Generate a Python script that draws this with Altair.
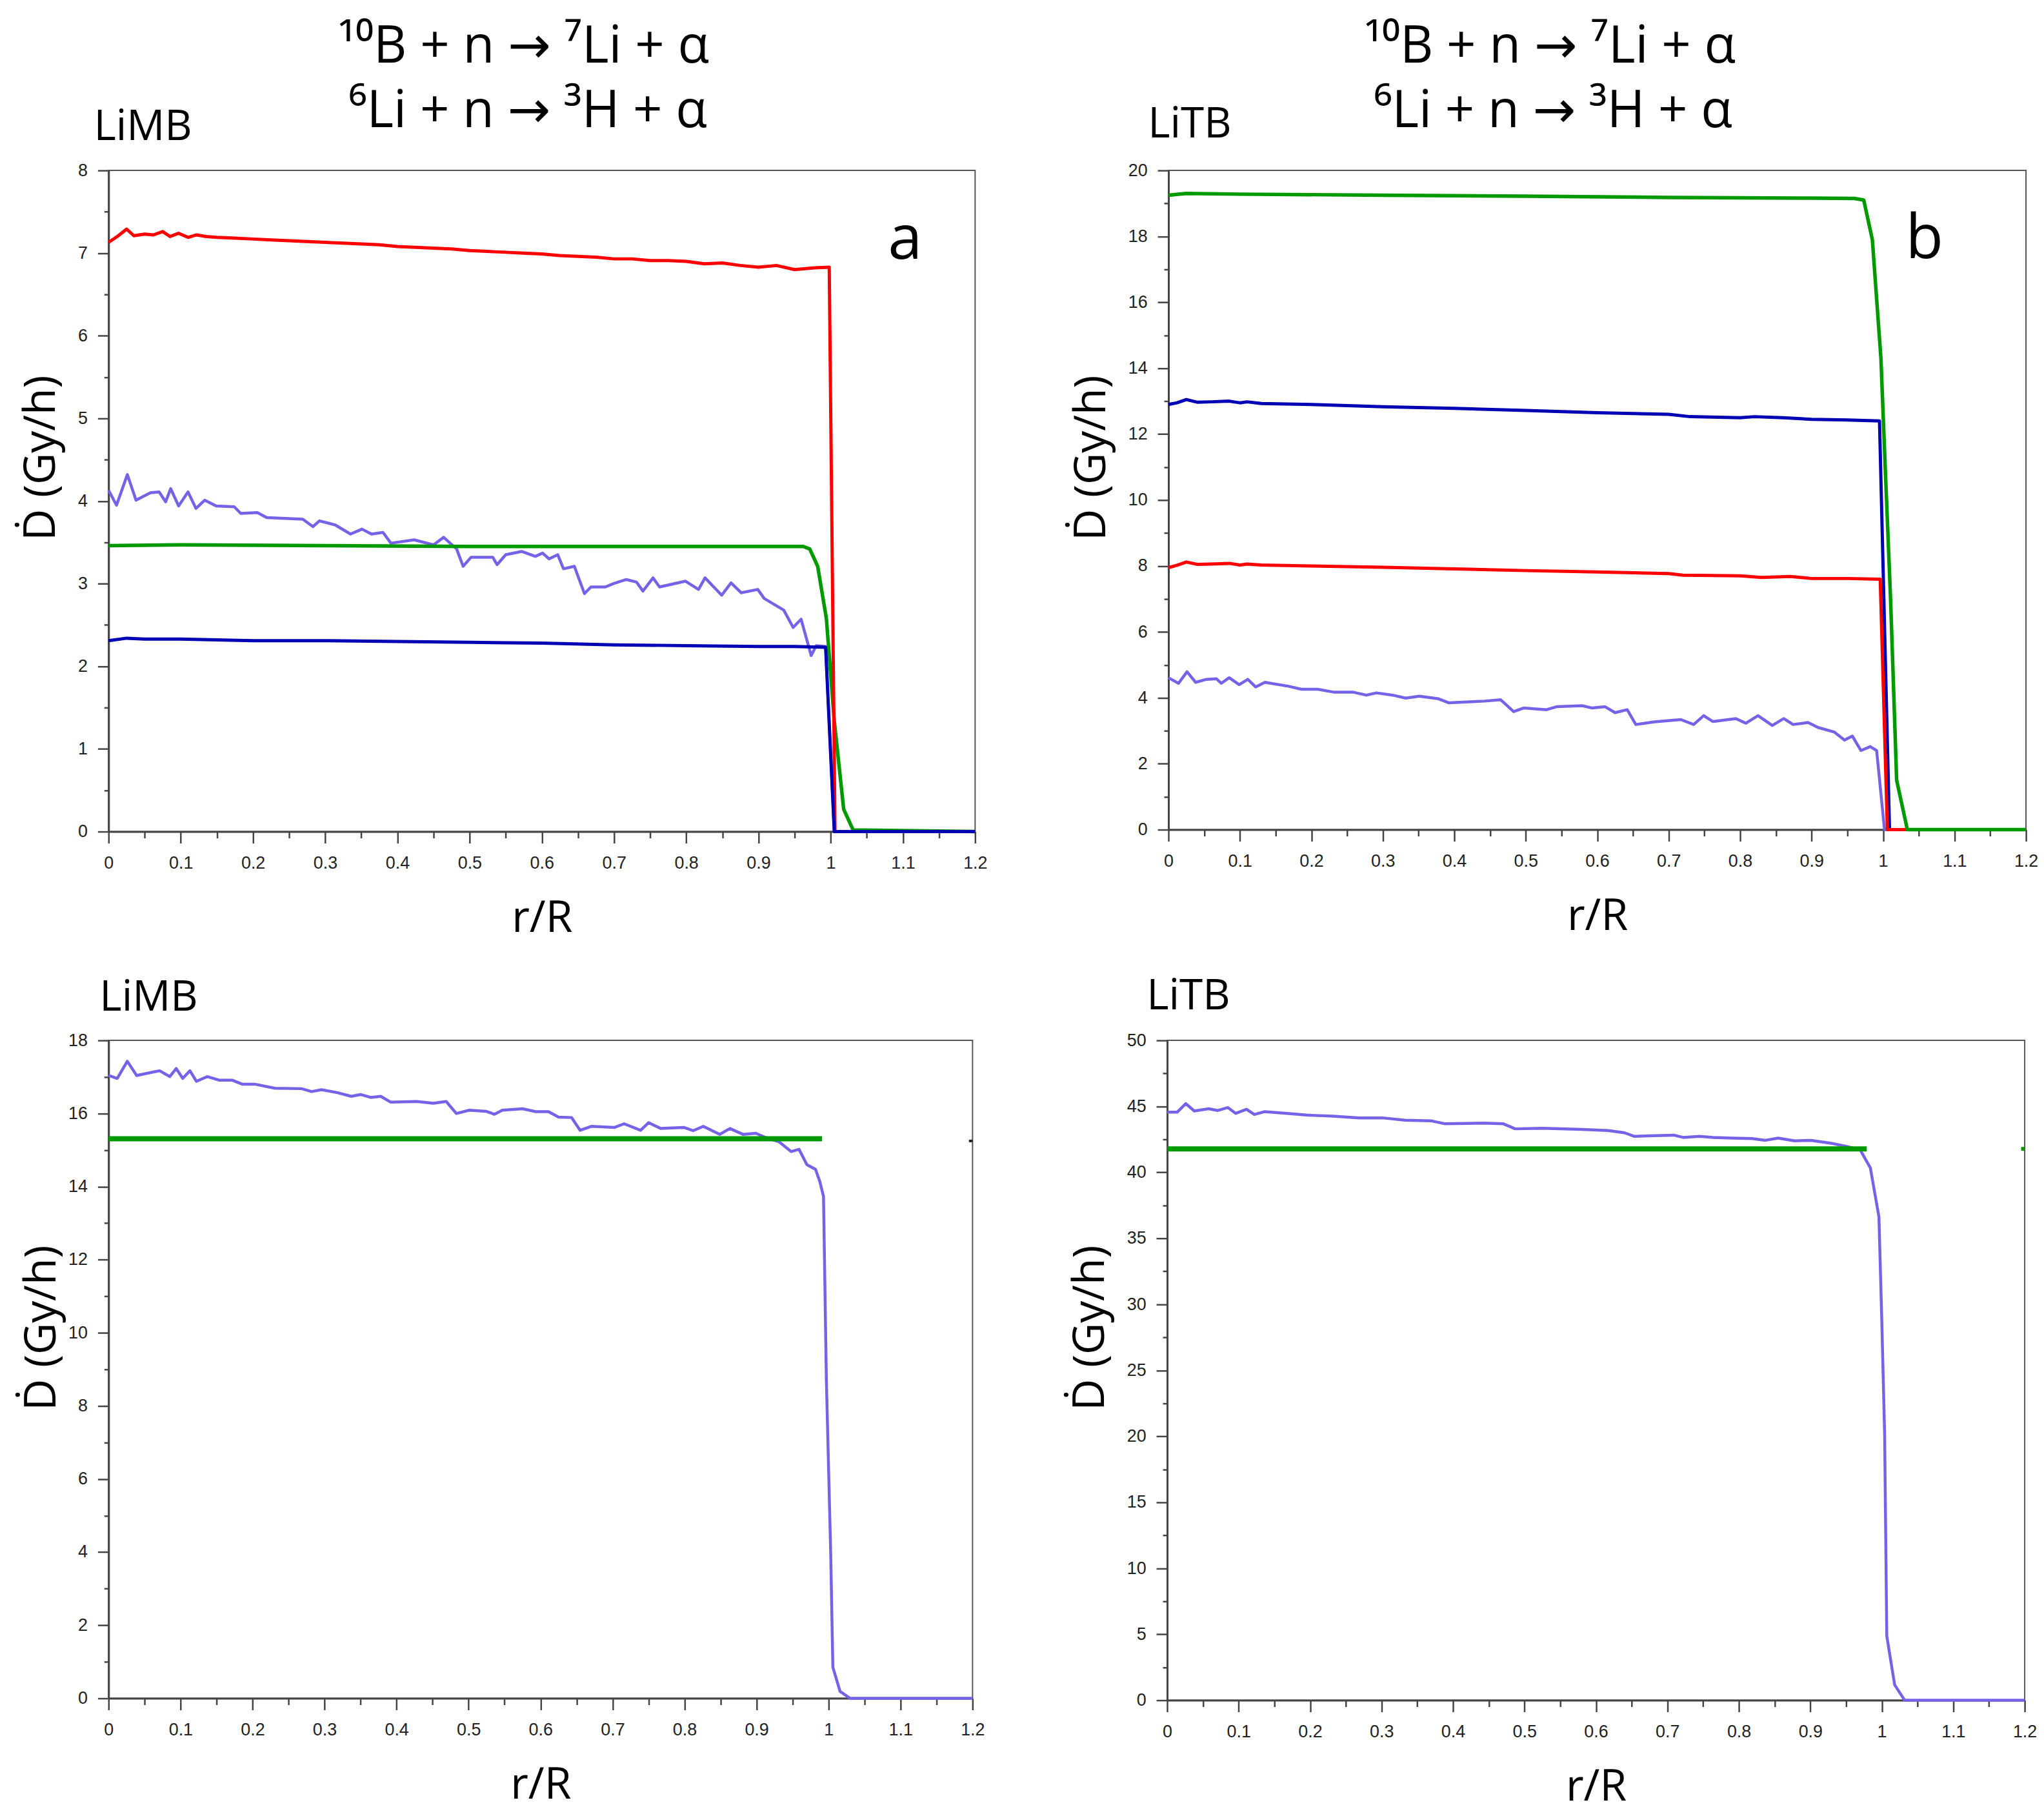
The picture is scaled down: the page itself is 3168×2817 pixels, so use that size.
import altair as alt
import pandas as pd

# ---- tick values ----
X_TICKS = [0, 0.05, 0.1, 0.15, 0.2, 0.25, 0.3, 0.35, 0.4, 0.45, 0.5, 0.55, 0.6,
           0.65, 0.7, 0.75, 0.8, 0.85, 0.9, 0.95, 1, 1.05, 1.1, 1.15, 1.2]
A_Y_TICKS = [0, 0.5, 1, 1.5, 2, 2.5, 3, 3.5, 4, 4.5, 5, 5.5, 6, 6.5, 7, 7.5, 8]
B_Y_TICKS = [0, 1, 2, 3, 4, 5, 6, 7, 8, 9, 10, 11, 12, 13, 14, 15, 16, 17, 18, 19, 20]
C_Y_TICKS = [0, 1, 2, 3, 4, 5, 6, 7, 8, 9, 10, 11, 12, 13, 14, 15, 16, 17, 18]
D_Y_TICKS = [0, 2.5, 5, 7.5, 10, 12.5, 15, 17.5, 20, 22.5, 25, 27.5, 30, 32.5, 35,
             37.5, 40, 42.5, 45, 47.5, 50]

# ---- panel a (LiMB) ----
a_red_r = [0, 0.012, 0.025, 0.035, 0.05, 0.062, 0.075, 0.085, 0.097, 0.11, 0.122, 0.135, 0.15,
           0.175, 0.2, 0.225, 0.25, 0.275, 0.3, 0.325, 0.35, 0.375, 0.4, 0.425, 0.45, 0.475,
           0.5, 0.525, 0.55, 0.575, 0.6, 0.625, 0.65, 0.675, 0.7, 0.725, 0.75, 0.775, 0.8,
           0.825, 0.85, 0.875, 0.9, 0.925, 0.95, 0.975, 0.998, 1.006, 1.2]
a_red_D = [7.13, 7.2, 7.29, 7.21, 7.23, 7.22, 7.26, 7.2, 7.24, 7.19, 7.22, 7.2, 7.19,
           7.18, 7.17, 7.16, 7.15, 7.14, 7.13, 7.12, 7.11, 7.1, 7.08, 7.07, 7.06, 7.05,
           7.03, 7.02, 7.01, 7.0, 6.99, 6.97, 6.96, 6.95, 6.93, 6.93, 6.91, 6.91, 6.9,
           6.87, 6.88, 6.85, 6.83, 6.85, 6.8, 6.82, 6.83, 0, 0]
a_blue_r = [0, 0.025, 0.05, 0.1, 0.15, 0.2, 0.3, 0.4, 0.5, 0.6, 0.7, 0.8, 0.9, 0.95, 0.993, 1.005, 1.2]
a_blue_D = [2.31, 2.34, 2.33, 2.33, 2.32, 2.31, 2.31, 2.3, 2.29, 2.28, 2.26, 2.25, 2.24, 2.24, 2.23, 0, 0]
a_green_r = [0, 0.1, 0.3, 0.5, 0.7, 0.9, 0.962, 0.971, 0.982, 0.994, 1.005, 1.018, 1.031, 1.2]
a_green_D = [3.46, 3.47, 3.46, 3.45, 3.45, 3.45, 3.45, 3.42, 3.21, 2.58, 1.34, 0.27, 0.02, 0]
a_purple_r = [0, 0.011, 0.026, 0.038, 0.058, 0.07, 0.079, 0.086, 0.097, 0.11,
              0.121, 0.133, 0.149, 0.174, 0.183, 0.206, 0.219, 0.269, 0.283, 0.292,
              0.314, 0.335, 0.351, 0.364, 0.38, 0.391, 0.423, 0.45, 0.464, 0.482,
              0.491, 0.502, 0.532, 0.538, 0.55, 0.572, 0.591, 0.601, 0.61, 0.622,
              0.63, 0.645, 0.659, 0.668, 0.688, 0.699, 0.717, 0.731, 0.74, 0.754,
              0.763, 0.799, 0.817, 0.826, 0.849, 0.862, 0.876, 0.899, 0.908, 0.935,
              0.948, 0.959, 0.973, 0.98, 0.993, 1.005, 1.2]
a_purple_D = [4.13, 3.95, 4.32, 4.01, 4.10, 4.11, 3.99, 4.15, 3.94, 4.11,
              3.91, 4.01, 3.94, 3.93, 3.85, 3.86, 3.80, 3.78, 3.69, 3.76,
              3.71, 3.60, 3.66, 3.60, 3.62, 3.49, 3.53, 3.47, 3.56, 3.42,
              3.21, 3.32, 3.32, 3.23, 3.35, 3.39, 3.33, 3.37, 3.30, 3.35,
              3.18, 3.21, 2.88, 2.96, 2.96, 3.00, 3.05, 3.02, 2.91, 3.07,
              2.96, 3.03, 2.93, 3.07, 2.86, 3.01, 2.89, 2.93, 2.82, 2.68,
              2.47, 2.57, 2.13, 2.25, 2.24, 0, 0]

# ---- panel b (LiTB) ----
b_green_r = [0, 0.025, 0.1, 0.3, 0.5, 0.7, 0.9, 0.96, 0.973, 0.985, 0.997, 1.003, 1.0105, 1.019, 1.034, 1.2]
b_green_D = [19.25, 19.3, 19.28, 19.25, 19.22, 19.18, 19.16, 19.15, 19.1, 17.9, 14.3, 11.0, 7.0, 1.5, 0, 0]
b_blue_r = [0, 0.012, 0.025, 0.04, 0.06, 0.085, 0.1, 0.11, 0.13, 0.2, 0.3, 0.4, 0.5, 0.6,
            0.7, 0.73, 0.8, 0.82, 0.86, 0.9, 0.95, 0.995, 1.009, 1.2]
b_blue_D = [12.9, 12.95, 13.05, 12.97, 12.98, 13.0, 12.95, 12.98, 12.93, 12.9, 12.83, 12.78, 12.72, 12.65,
            12.6, 12.53, 12.5, 12.53, 12.5, 12.45, 12.43, 12.4, 0, 0]
b_red_r = [0, 0.012, 0.025, 0.04, 0.06, 0.085, 0.1, 0.11, 0.13, 0.2, 0.3, 0.4, 0.5, 0.6,
           0.7, 0.72, 0.8, 0.83, 0.87, 0.9, 0.95, 0.996, 1.006, 1.2]
b_red_D = [7.95, 8.02, 8.12, 8.05, 8.06, 8.08, 8.03, 8.06, 8.03, 8.0, 7.96, 7.91, 7.86, 7.82,
           7.77, 7.72, 7.7, 7.65, 7.68, 7.62, 7.62, 7.6, 0, 0]
b_purple_r = [0, 0.014, 0.026, 0.038, 0.053, 0.067, 0.074, 0.085, 0.099, 0.111,
              0.122, 0.135, 0.168, 0.186, 0.209, 0.232, 0.259, 0.277, 0.291, 0.314,
              0.332, 0.351, 0.378, 0.392, 0.442, 0.465, 0.483, 0.497, 0.529, 0.543,
              0.579, 0.593, 0.611, 0.625, 0.642, 0.654, 0.68, 0.717, 0.735, 0.749,
              0.762, 0.794, 0.808, 0.825, 0.845, 0.861, 0.874, 0.895, 0.909, 0.932,
              0.946, 0.957, 0.969, 0.982, 0.991, 1.002, 1.2]
b_purple_D = [4.61, 4.44, 4.79, 4.47, 4.56, 4.58, 4.44, 4.61, 4.40, 4.56,
              4.33, 4.47, 4.35, 4.26, 4.26, 4.17, 4.17, 4.08, 4.15, 4.08,
              3.99, 4.05, 3.97, 3.85, 3.90, 3.94, 3.58, 3.69, 3.64, 3.73,
              3.76, 3.69, 3.73, 3.55, 3.64, 3.19, 3.27, 3.34, 3.19, 3.46,
              3.28, 3.37, 3.23, 3.46, 3.16, 3.37, 3.19, 3.25, 3.10, 2.96,
              2.72, 2.84, 2.40, 2.52, 2.40, 0, 0]

# ---- panel c (LiMB, bottom) ----
c_purple_r = [0, 0.012, 0.026, 0.039, 0.058, 0.071, 0.085, 0.094, 0.103, 0.113,
              0.122, 0.137, 0.154, 0.172, 0.186, 0.204, 0.231, 0.268, 0.282, 0.296,
              0.318, 0.337, 0.35, 0.364, 0.378, 0.392, 0.428, 0.451, 0.469, 0.483,
              0.501, 0.524, 0.536, 0.547, 0.575, 0.593, 0.611, 0.625, 0.643, 0.655,
              0.671, 0.703, 0.716, 0.739, 0.75, 0.767, 0.799, 0.812, 0.826, 0.849,
              0.863, 0.881, 0.899, 0.913, 0.931, 0.948, 0.959, 0.97, 0.982, 0.988,
              0.993, 0.997, 1.003, 1.006, 1.016, 1.03, 1.2]
c_purple_D = [17.04, 16.96, 17.43, 17.04, 17.12, 17.17, 17.01, 17.23, 16.96, 17.17,
              16.88, 17.01, 16.91, 16.91, 16.80, 16.80, 16.69, 16.68, 16.60, 16.65,
              16.57, 16.47, 16.52, 16.44, 16.47, 16.31, 16.33, 16.28, 16.33, 16.00,
              16.09, 16.06, 15.98, 16.09, 16.13, 16.05, 16.05, 15.90, 15.89, 15.54,
              15.65, 15.62, 15.72, 15.54, 15.75, 15.59, 15.62, 15.53, 15.65, 15.43,
              15.59, 15.43, 15.46, 15.34, 15.23, 14.96, 15.02, 14.60, 14.47, 14.13,
              13.73, 8.69, 3.97, 0.85, 0.19, 0, 0]
c_green_r = [0, 0.991]
c_green_D = [15.31, 15.31]
c_edge_r = [1.195, 1.2]
c_edge_D = [15.25, 15.25]

# ---- panel d (LiTB, bottom) ----
d_purple_r = [0, 0.014, 0.026, 0.038, 0.058, 0.071, 0.085, 0.096, 0.111, 0.122,
              0.136, 0.168, 0.195, 0.232, 0.269, 0.301, 0.333, 0.369, 0.388, 0.443,
              0.47, 0.487, 0.525, 0.58, 0.617, 0.64, 0.654, 0.681, 0.709, 0.722,
              0.745, 0.764, 0.791, 0.819, 0.837, 0.855, 0.878, 0.901, 0.929, 0.952,
              0.97, 0.984, 0.996, 1.0, 1.004, 1.007, 1.018, 1.032, 1.2]
d_purple_D = [44.56, 44.56, 45.21, 44.65, 44.82, 44.69, 44.91, 44.47, 44.78, 44.39,
              44.6, 44.47, 44.34, 44.26, 44.13, 44.13, 43.95, 43.91, 43.69, 43.73,
              43.69, 43.3, 43.34, 43.26, 43.17, 43.0, 42.73, 42.78, 42.82, 42.65,
              42.73, 42.65, 42.6, 42.56, 42.43, 42.6, 42.39, 42.43, 42.21, 41.95,
              41.69, 40.34, 36.64, 28.8, 20.1, 4.87, 1.17, 0, 0]
d_green_r = [0, 0.979]
d_green_D = [41.78, 41.78]
d_edge_r = [1.195, 1.2]
d_edge_D = [41.78, 41.78]

REACTION_1 = "¹⁰B + n → ⁷Li + α"
REACTION_2 = "⁶Li + n → ³H + α"

RED = "#ff0000"
GREEN = "#009a00"
BLUE = "#0000b4"
PURPLE = "#7463e6"
TEXT_FONT = "Open Sans, DejaVu Sans"


def major(step):
    return f"abs(datum.value / {step} - round(datum.value / {step})) < 0.001"


def x_enc():
    t = major(0.1)
    return alt.X("r:Q", title="r/R",
                 scale=alt.Scale(domain=[0, 1.2], nice=False, zero=False),
                 axis=alt.Axis(values=X_TICKS, labelExpr=f"{t} ? format(datum.value, '~g') : ''",
                               tickSize={"condition": {"test": t, "value": 18}, "value": 10},
                               labelFlush=False, labelOverlap=False,
                               labelPadding=18, titlePadding=40))


def y_enc(ticks, step, title_pad):
    t = major(step)
    return alt.Y("D:Q", title="Ḋ (Gy/h)",
                 scale=alt.Scale(domain=[0, ticks[-1]], nice=False, zero=False),
                 axis=alt.Axis(values=ticks, labelExpr=f"{t} ? format(datum.value, '~g') : ''",
                               tickSize={"condition": {"test": t, "value": 17}, "value": 7},
                               labelOverlap=False, labelPadding=16, titlePadding=title_pad,
                               titleY=447))


def line(r, d, color, width, ticks, step, title_pad=22):
    df = pd.DataFrame({"r": r, "D": d})
    return alt.Chart(df).mark_line(color=color, strokeWidth=width, strokeJoin="round").encode(
        x=x_enc(), y=y_enc(ticks, step, title_pad))


def label(text, x, y, size, align="left"):
    df = pd.DataFrame({"t": [text]})
    return alt.Chart(df).mark_text(align=align, baseline="alphabetic", fontSize=size,
                                   font=TEXT_FONT, color="black").encode(
        text="t:N", x=alt.value(x), y=alt.value(y))


panel_a = alt.layer(
    line(a_purple_r, a_purple_D, PURPLE, 4.5, A_Y_TICKS, 1),
    line(a_green_r, a_green_D, GREEN, 5.5, A_Y_TICKS, 1),
    line(a_red_r, a_red_D, RED, 5, A_Y_TICKS, 1),
    line(a_blue_r, a_blue_D, BLUE, 5, A_Y_TICKS, 1),
    label(REACTION_1, 646, -168, 80, "center"),
    label(REACTION_2, 653, -67, 80, "center"),
    label("LiMB", -23, -47, 66),
    label("a", 1240, 138, 96, "center"),
).properties(width=1349, height=1029)

panel_b = alt.layer(
    line(b_purple_r, b_purple_D, PURPLE, 4.5, B_Y_TICKS, 2),
    line(b_blue_r, b_blue_D, BLUE, 5, B_Y_TICKS, 2),
    line(b_red_r, b_red_D, RED, 5, B_Y_TICKS, 2),
    line(b_green_r, b_green_D, GREEN, 5.5, B_Y_TICKS, 2),
    label(REACTION_1, 594, -168, 80, "center"),
    label(REACTION_2, 599, -67, 80, "center"),
    label("LiTB", -32, -51, 66),
    label("b", 1177, 137, 96, "center"),
).properties(width=1335, height=1026)

panel_c = alt.layer(
    line(c_purple_r, c_purple_D, PURPLE, 4.5, C_Y_TICKS, 2, 6),
    line(c_green_r, c_green_D, GREEN, 8, C_Y_TICKS, 2, 6),
    line(c_edge_r, c_edge_D, "#222222", 4, C_Y_TICKS, 2, 6),
    label("LiMB", -14, -46, 66),
).properties(width=1345, height=1024)

panel_d = alt.layer(
    line(d_purple_r, d_purple_D, PURPLE, 4.5, D_Y_TICKS, 5),
    line(d_green_r, d_green_D, GREEN, 8, D_Y_TICKS, 5),
    line(d_edge_r, d_edge_D, GREEN, 6, D_Y_TICKS, 5),
    label("LiTB", -32, -48, 66),
).properties(width=1335, height=1027)

top_row = alt.hconcat(panel_a, panel_b, spacing=126)
bottom_row = alt.hconcat(panel_c, panel_d, spacing=128)

chart = alt.ConcatChart(
    concat=[top_row, bottom_row], columns=1, spacing=52,
).properties(
    padding={"left": 21, "top": 18, "right": 0, "bottom": 4}
).configure_view(
    stroke="#555555", strokeWidth=2
).configure_axis(
    grid=False, domainColor="#444444", domainWidth=3, tickColor="#444444", tickWidth=2.5,
    labelFont="Liberation Sans", labelFontSize=27, labelColor="#222222",
    titleFont=TEXT_FONT, titleFontSize=68, titleFontWeight="normal", titleColor="black",
)

chart.save("out.html", embed_options={"renderer": "svg", "actions": False})
